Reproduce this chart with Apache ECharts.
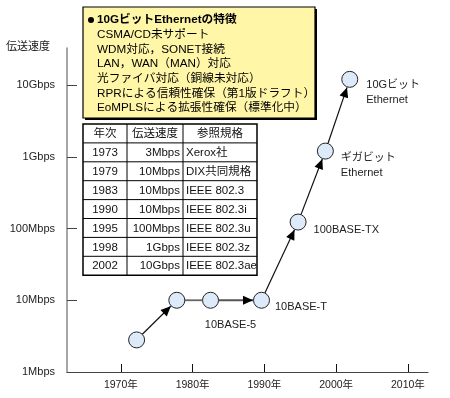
<!DOCTYPE html>
<html>
<head>
<meta charset="utf-8">
<script src="https://cdn.jsdelivr.net/npm/echarts@6/dist/echarts.min.js"></script>
<style>
  html, body { margin: 0; padding: 0; background: #fff; }
  #chart { width: 450px; height: 398px; }
</style>
</head>
<body>
<div id="chart"></div>
<script>
// 点の位置
const pointYears = [1972.2, 1977.8, 1982.5, 1989.6, 1994.7, 1998.5, 2001.9];
const pointSpeeds = [2.8, 10, 10, 10, 123, 1200, 12000]; // Mbps
const pointLabels = ['', '', '10BASE-5', '10BASE-T', '100BASE-TX', 'ギガビット\nEthernet', '10Gビット\nEthernet'];
// 矢印: 各区間
const segArrow = [true, false, true, true, true, true];
const segColor = ['#111', '#666', '#555', '#111', '#111', '#111'];

const xTicks = [1970, 1980, 1990, 2000, 2010];
const yTicks = [0, 1, 2, 3, 4];
const yTickLabels = ['1Mbps', '10Mbps', '100Mbps', '1Gbps', '10Gbps'];

const featureLines = [
  '10GビットEthernetの特徴',
  'CSMA/CD未サポート',
  'WDM対応，SONET接続',
  'LAN，WAN（MAN）対応',
  '光ファイバ対応（銅線未対応）',
  'RPRによる信頼性確保（第1版ドラフト）',
  'EoMPLSによる拡張性確保（標準化中）'
];

const tableHeader = ['年次', '伝送速度', '参照規格'];
const tableYears = ['1973', '1979', '1983', '1990', '1995', '1998', '2002'];
const tableSpeeds = ['3Mbps', '10Mbps', '10Mbps', '10Mbps', '100Mbps', '1Gbps', '10Gbps'];
const tableSpecs = ['Xerox社', 'DIX共同規格', 'IEEE 802.3', 'IEEE 802.3i', 'IEEE 802.3u', 'IEEE 802.3z', 'IEEE 802.3ae'];

const FONT = '"Liberation Sans", "Noto Sans CJK JP", sans-serif';
const R = 8;

const chart = echarts.init(document.getElementById('chart'));

const points = pointYears.map((y, i) => [y, Math.log10(pointSpeeds[i])]);
const segments = [];
for (let i = 0; i < points.length - 1; i++) {
  segments.push([points[i][0], points[i][1], points[i + 1][0], points[i + 1][1], i]);
}

const labelCfg = [
  null,
  null,
  { position: 'bottom', offset: [20, 4] },
  { position: 'right', distance: 5, offset: [0, 7] },
  { position: 'right', distance: 7, offset: [0, 8] },
  { position: 'right', distance: 7, offset: [0, 14] },
  { position: 'right', distance: 8, offset: [0, 13] }
];

// 特徴ボックスと表
const graphics = [];
const bx = 83, by = 7, bw = 232, bh = 111;
graphics.push({ type: 'rect', shape: { x: bx + 2, y: by + 2, width: bw, height: bh }, style: { fill: '#000' } });
graphics.push({ type: 'rect', shape: { x: bx, y: by, width: bw, height: bh }, style: { fill: '#fff6a8', stroke: '#000', lineWidth: 1.2 } });
graphics.push({ type: 'circle', shape: { cx: 91, cy: 20, r: 3 }, style: { fill: '#000' } });
featureLines.forEach((t, i) => {
  graphics.push({
    type: 'text', x: 97, y: 20 + i * 14.7,
    style: { text: t, font: (i === 0 ? 'bold ' : '') + '11.7px ' + FONT, fill: '#000', verticalAlign: 'middle' }
  });
});

const tx = [83, 127, 183, 257];
const ty0 = 124, rh = 18.9;
const nRows = tableYears.length + 1;
graphics.push({ type: 'rect', shape: { x: tx[0], y: ty0, width: tx[3] - tx[0], height: rh * nRows }, style: { fill: '#fff', stroke: '#000', lineWidth: 1.5 } });
for (let r = 1; r < nRows; r++) {
  graphics.push({ type: 'line', shape: { x1: tx[0], y1: ty0 + r * rh, x2: tx[3], y2: ty0 + r * rh }, style: { stroke: '#000', lineWidth: 1 } });
}
[tx[1], tx[2]].forEach(x => {
  graphics.push({ type: 'line', shape: { x1: x, y1: ty0, x2: x, y2: ty0 + rh * nRows }, style: { stroke: '#000', lineWidth: 1 } });
});
function cell(text, x, row, align) {
  graphics.push({
    type: 'text', x: x, y: ty0 + row * rh + rh / 2 + 0.5,
    style: { text: text, font: '11.5px ' + FONT, fill: '#111', align: align, verticalAlign: 'middle' }
  });
}
cell(tableHeader[0], (tx[0] + tx[1]) / 2, 0, 'center');
cell(tableHeader[1], (tx[1] + tx[2]) / 2, 0, 'center');
cell(tableHeader[2], (tx[2] + tx[3]) / 2, 0, 'center');
tableYears.forEach((v, i) => {
  cell(v, (tx[0] + tx[1]) / 2, i + 1, 'center');
  cell(tableSpeeds[i], tx[2] - 3, i + 1, 'right');
  cell(tableSpecs[i], tx[2] + 3, i + 1, 'left');
});
graphics.push({ type: 'text', x: 6, y: 47, style: { text: '伝送速度', font: '11px ' + FONT, fill: '#222', verticalAlign: 'middle' } });

chart.setOption({
  animation: false,
  grid: { left: 67, right: 22, top: 48, bottom: 26 },
  xAxis: {
    type: 'value',
    min: 1962.5,
    max: 2012.8,
    axisLine: { lineStyle: { color: '#444', width: 1.2 } },
    axisTick: { inside: true, length: 8, customValues: xTicks, lineStyle: { color: '#111' } },
    axisLabel: { customValues: xTicks, formatter: v => v + '年', color: '#222', fontSize: 10.5, fontFamily: FONT, margin: 8 },
    splitLine: { show: false }
  },
  yAxis: {
    type: 'value',
    min: 0,
    max: 4.516,
    axisLine: { show: true, lineStyle: { color: '#888', width: 1.5 } },
    axisTick: { show: true, inside: true, length: 10, customValues: yTicks, lineStyle: { color: '#444' } },
    axisLabel: { customValues: yTicks, formatter: v => yTickLabels[Math.round(v)], color: '#222', fontSize: 11, fontFamily: FONT, margin: 12 },
    splitLine: { show: false }
  },
  series: [
    {
      type: 'custom',
      coordinateSystem: 'cartesian2d',
      encode: { x: [0, 2], y: [1, 3] },
      data: segments,
      z: 2,
      renderItem: function (params, api) {
        const p1 = api.coord([api.value(0), api.value(1)]);
        const p2 = api.coord([api.value(2), api.value(3)]);
        const idx = api.value(4);
        const dx = p2[0] - p1[0], dy = p2[1] - p1[1];
        const len = Math.sqrt(dx * dx + dy * dy);
        const ux = dx / len, uy = dy / len;
        const s = [p1[0] + ux * R, p1[1] + uy * R];
        const e = [p2[0] - ux * (R + 0.5), p2[1] - uy * (R + 0.5)];
        const children = [{
          type: 'line',
          shape: { x1: s[0], y1: s[1], x2: e[0], y2: e[1] },
          style: { stroke: segColor[idx], lineWidth: segColor[idx] === '#111' ? 1.2 : 1.8 }
        }];
        if (segArrow[idx]) {
          const al = 10, aw = 4.5;
          const bxp = e[0] - ux * al, byp = e[1] - uy * al;
          children.push({
            type: 'polygon',
            shape: { points: [e, [bxp - uy * aw, byp + ux * aw], [bxp + uy * aw, byp - ux * aw]] },
            style: { fill: '#000' }
          });
        }
        return { type: 'group', children: children };
      }
    },
    {
      type: 'line',
      z: 3,
      lineStyle: { width: 0, opacity: 0 },
      symbol: 'circle',
      symbolSize: R * 2,
      itemStyle: { color: '#ddeafa', borderColor: '#222', borderWidth: 1 },
      data: points.map((p, i) => ({
        value: p,
        label: labelCfg[i] ? Object.assign({
          show: true,
          formatter: pointLabels[i],
          color: '#222',
          fontSize: 11,
          fontFamily: FONT,
          lineHeight: 15,
          align: labelCfg[i].position === 'right' ? 'left' : 'center'
        }, labelCfg[i]) : { show: false }
      }))
    }
  ],
  graphic: graphics
});
</script>
</body>
</html>
